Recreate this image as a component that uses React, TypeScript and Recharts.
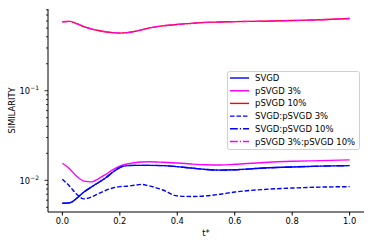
import React from 'react';
import { LineChart, Line, XAxis, YAxis } from 'recharts';

const tValues = [0, 0.025, 0.05, 0.075, 0.1, 0.125, 0.15, 0.175, 0.2, 0.225, 0.25, 0.275, 0.3, 0.35, 0.4, 0.45, 0.5, 0.55, 0.6, 0.7, 0.8, 0.9, 1.0];

const svgd = [0.00555, 0.0056, 0.0063, 0.0074, 0.0084, 0.0094, 0.0106, 0.0123, 0.0139, 0.0146, 0.0147, 0.0147, 0.0147, 0.0146, 0.0142, 0.0137, 0.0132, 0.013, 0.0131, 0.0137, 0.0141, 0.0144, 0.0146];
const psvgd3 = [0.0155, 0.0135, 0.0111, 0.0098, 0.0096, 0.0104, 0.0116, 0.0131, 0.0144, 0.0152, 0.0157, 0.016, 0.0161, 0.0159, 0.0156, 0.0152, 0.0149, 0.0148, 0.0151, 0.0158, 0.0163, 0.0166, 0.0169];
const psvgd10 = [0.589, 0.595, 0.56, 0.52, 0.49, 0.47, 0.455, 0.445, 0.44, 0.445, 0.458, 0.478, 0.5, 0.53, 0.55, 0.565, 0.58, 0.585, 0.59, 0.597, 0.607, 0.62, 0.64];
const svgdVs3 = [0.0103, 0.0086, 0.007, 0.0062, 0.0065, 0.0071, 0.0077, 0.0082, 0.0085, 0.0086, 0.0088, 0.009, 0.0087, 0.0078, 0.0067, 0.0066, 0.0067, 0.007, 0.0074, 0.0079, 0.0082, 0.0084, 0.0085];
const svgdVs10 = [0.00555, 0.0056, 0.0063, 0.0074, 0.0084, 0.0094, 0.0106, 0.0123, 0.0139, 0.0146, 0.0147, 0.0147, 0.0147, 0.0146, 0.0142, 0.0137, 0.0132, 0.013, 0.0131, 0.0137, 0.0141, 0.0144, 0.0146];
const p3Vs10 = [0.589, 0.595, 0.56, 0.52, 0.49, 0.47, 0.455, 0.445, 0.44, 0.445, 0.458, 0.478, 0.5, 0.53, 0.55, 0.565, 0.58, 0.585, 0.59, 0.597, 0.607, 0.62, 0.64];

const xTicks = [0, 0.2, 0.4, 0.6, 0.8, 1.0];
const majorTicks = [0.01, 0.1];
const minorTicks = [0.005, 0.006, 0.007, 0.008, 0.009, 0.02, 0.03, 0.04, 0.05, 0.06, 0.07, 0.08, 0.09, 0.2, 0.3, 0.4, 0.5, 0.6, 0.7, 0.8];

const FONT = '"DejaVu Sans", sans-serif';

const series = [
  { key: 'svgd', name: 'SVGD', color: '#0000ff', dash: undefined },
  { key: 'psvgd3', name: 'pSVGD 3%', color: '#ff00ff', dash: undefined },
  { key: 'psvgd10', name: 'pSVGD 10%', color: '#ff0000', dash: undefined },
  { key: 'svgdVs3', name: 'SVGD:pSVGD 3%', color: '#0000ff', dash: '4.5 2' },
  { key: 'svgdVs10', name: 'SVGD:pSVGD 10%', color: '#0000ff', dash: '7.8 2 1.2 2' },
  { key: 'p3Vs10', name: 'pSVGD 3%:pSVGD 10%', color: '#ff00ff', dash: '7.8 2 1.2 2' },
];

const data = tValues.map((t, i) => ({
  t,
  svgd: svgd[i],
  psvgd3: psvgd3[i],
  psvgd10: psvgd10[i],
  svgdVs3: svgdVs3[i],
  svgdVs10: svgdVs10[i],
  p3Vs10: p3Vs10[i],
}));

const LogTick = ({ x, y, payload }: any) => {
  const v = payload.value;
  const major = majorTicks.includes(v);
  const exp = Math.round(Math.log10(v));
  return (
    <g>
      <line x1={x - (major ? 3.5 : 2)} x2={x} y1={y} y2={y} stroke="#000" strokeWidth={0.8} />
      {major && (
        <text x={x - 9} y={y + 3.6} textAnchor="end" fontSize={8.3} fill="#000" fontFamily={FONT}>
          10
          <tspan dy={-4} fontSize={6}>{'\u2212' + -exp}</tspan>
        </text>
      )}
    </g>
  );
};

// matplotlib-style legend box, drawn outside the chart so it takes no layout space
const LegendBox = () => (
  <svg width={134} height={80} style={{ position: 'absolute', left: 227, top: 71 }}>
    <rect x={0.5} y={0.5} width={132} height={78} rx={2} fill="#fff" fillOpacity={0.8} stroke="#d0d0d0" />
    {series.map((s, i) => {
      const cy = 7 + i * 12.7;
      return (
        <g key={s.key}>
          <line x1={3} x2={22} y1={cy} y2={cy} stroke={s.color} strokeWidth={1.4} strokeDasharray={s.dash} />
          <text x={28} y={cy + 3} fontSize={8.5} fill="#000" fontFamily={FONT}>
            {s.name}
          </text>
        </g>
      );
    })}
  </svg>
);

export default function App() {
  return (
    <div style={{ position: 'absolute', left: 0, top: 0, width: 374, height: 249, background: '#fff' }}>
      <LineChart width={374} height={249} data={data} margin={{ top: 9, right: 10, bottom: 0, left: 0 }}>
        <XAxis
          dataKey="t"
          type="number"
          domain={[-0.05, 1.05]}
          allowDataOverflow
          ticks={xTicks}
          tickFormatter={(v: number) => v.toFixed(1)}
          height={37}
          tickSize={3.5}
          tickMargin={3}
          stroke="#000"
          tick={{ fill: '#000', fontSize: 8.3, fontFamily: FONT }}
          label={{ value: 't*', position: 'center', dy: 3, style: { fill: '#000', fontSize: 8.3, fontFamily: FONT } }}
        />
        <XAxis xAxisId="top" orientation="top" height={0} tick={false} tickLine={false} stroke="#000" />
        <YAxis
          scale="log"
          type="number"
          domain={[0.00443, 0.817]}
          allowDataOverflow
          ticks={[...minorTicks, ...majorTicks]}
          interval={0}
          width={48}
          tickSize={0}
          tickMargin={0}
          tickLine={false}
          stroke="#000"
          tick={<LogTick />}
          label={{ value: 'SIMILARITY', angle: -90, position: 'center', dx: -12, style: { fill: '#000', fontSize: 8.3, fontFamily: FONT } }}
        />
        <YAxis yAxisId="right" orientation="right" width={0} tick={false} tickLine={false} stroke="#000" />
        {series.map((s) => (
          <Line
            key={s.key}
            dataKey={s.key}
            name={s.name}
            type="monotone"
            stroke={s.color}
            strokeWidth={1.4}
            strokeDasharray={s.dash}
            dot={false}
            isAnimationActive={false}
          />
        ))}
      </LineChart>
      <LegendBox />
    </div>
  );
}
